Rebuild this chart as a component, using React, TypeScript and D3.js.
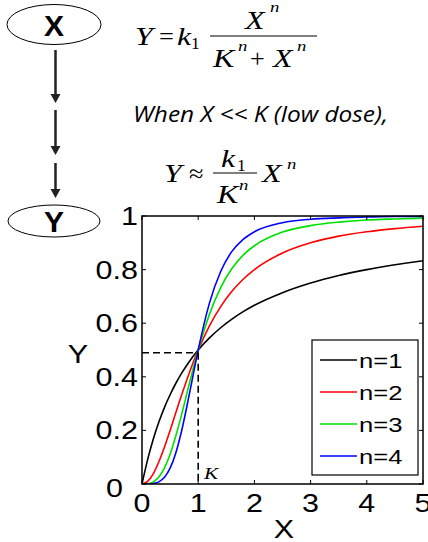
import React from 'react';
import * as d3 from 'd3';

// values
const xs = [0, 0.1, 0.2, 0.3, 0.4, 0.5, 0.6, 0.7, 0.8, 0.9, 1.0, 1.2, 1.4, 1.6, 1.8, 2.0, 2.5, 3.0, 3.5, 4.0, 4.5, 5.0];
const n1 = [0, 0.091, 0.167, 0.231, 0.286, 0.333, 0.375, 0.412, 0.444, 0.474, 0.5, 0.545, 0.583, 0.615, 0.643, 0.667, 0.714, 0.75, 0.778, 0.8, 0.818, 0.833];
const n2 = [0, 0.01, 0.038, 0.083, 0.138, 0.2, 0.265, 0.329, 0.39, 0.448, 0.5, 0.59, 0.662, 0.719, 0.764, 0.8, 0.862, 0.9, 0.925, 0.941, 0.953, 0.962];
const n3 = [0, 0.001, 0.008, 0.026, 0.06, 0.111, 0.178, 0.255, 0.339, 0.422, 0.5, 0.633, 0.733, 0.804, 0.854, 0.889, 0.94, 0.964, 0.977, 0.985, 0.989, 0.992];
const n4 = [0, 0, 0.002, 0.008, 0.025, 0.059, 0.115, 0.194, 0.291, 0.396, 0.5, 0.675, 0.793, 0.868, 0.913, 0.941, 0.975, 0.988, 0.993, 0.996, 0.998, 0.998];
const seriesNames = ['n=1', 'n=2', 'n=3', 'n=4'];
const seriesValues = [n1, n2, n3, n4];
const colors = ['#000000', '#ff0000', '#00e000', '#0000ff'];
const xTicks = [0, 1, 2, 3, 4, 5];
const yTicks = [0, 0.2, 0.4, 0.6, 0.8, 1];
const kMark = { x: 1, y: 0.49 };

const W = 428;
const H = 542;
const left = 142, right = 423, top = 216, bottom = 484;

const sans = 'Arial, "Liberation Sans", sans-serif';
const serif = '"Times New Roman", "Liberation Serif", serif';

// the source picture is stretched sideways, so text is too
const T = ({ x, y, size, anchor = 'start', family = sans, italic = false, sx = 1.22, children }: any) => (
  <text
    transform={`translate(${x},${y}) scale(${sx},1)`}
    fontFamily={family}
    fontSize={size}
    fontStyle={italic ? 'italic' : 'normal'}
    textAnchor={anchor}
  >
    {children}
  </text>
);

// math letter / operator helpers
const M = (p: any) => <T size={25} family={serif} italic sx={1.28} {...p} />;
const Op = (p: any) => <T size={25} family={serif} sx={1.05} {...p} />;
const Sup = (p: any) => <T size={15} family={serif} italic sx={1.25} {...p} />;

const Arrow = ({ x, y1, y2 }: any) => (
  <g stroke="#222" fill="#222">
    <line x1={x} x2={x} y1={y1} y2={y2 - 7} strokeWidth={2.5} />
    <path d={`M${x - 5},${y2 - 9} L${x + 5},${y2 - 9} L${x},${y2} Z`} stroke="none" />
  </g>
);

export default function App() {
  const x = d3.scaleLinear().domain([0, 5]).range([left, right]);
  const y = d3.scaleLinear().domain([0, 1]).range([bottom, top]);
  const line = d3
    .line<number>()
    .x((_, i) => x(xs[i]))
    .y((d) => y(d))
    .curve(d3.curveMonotoneX);

  return (
    <svg width={W} height={H} style={{ position: 'absolute', left: 0, top: 0, background: '#fff' }}>
      {/* pathway */}
      <ellipse cx={54} cy={24.5} rx={47} ry={20} fill="none" stroke="#000" strokeWidth={1} />
      <text x={54} y={36} textAnchor="middle" fontFamily={sans} fontWeight="bold" fontSize={30}>X</text>
      <Arrow x={55.5} y1={50} y2={103} />
      <Arrow x={55.5} y1={110} y2={155} />
      <Arrow x={55.5} y1={163} y2={198} />
      <ellipse cx={54} cy={221} rx={46} ry={16} fill="none" stroke="#000" strokeWidth={1} />
      <text x={54} y={232} textAnchor="middle" fontFamily={sans} fontWeight="bold" fontSize={30}>Y</text>

      {/* equation 1 */}
      <M x={135} y={45}>Y</M>
      <Op x={159} y={45}>=</Op>
      <M x={177} y={45}>k</M>
      <Op x={191} y={49} size={16} sx={1.1}>1</Op>
      <line x1={210} x2={317} y1={36} y2={36} stroke="#000" strokeWidth={1.2} />
      <M x={245} y={29}>X</M>
      <Sup x={270} y={12}>n</Sup>
      <M x={213} y={67}>K</M>
      <Sup x={238} y={51}>n</Sup>
      <Op x={250} y={67}>+</Op>
      <M x={273} y={67}>X</M>
      <Sup x={297} y={51}>n</Sup>

      <text x={133} y={122} fontFamily='"Open Sans", sans-serif' fontStyle="italic" fontSize={21}
        textLength={255} lengthAdjust="spacingAndGlyphs">When X &lt;&lt; K (low dose),</text>

      {/* equation 2 */}
      <M x={164} y={182}>Y</M>
      <Op x={189} y={182}>≈</Op>
      <M x={221} y={167}>k</M>
      <Op x={237} y={171} size={16} sx={1.1}>1</Op>
      <line x1={213} x2={257} y1={173} y2={173} stroke="#000" strokeWidth={1.2} />
      <M x={217} y={203}>K</M>
      <Sup x={239} y={190}>n</Sup>
      <M x={262} y={182}>X</M>
      <Sup x={287} y={169}>n</Sup>

      {/* plot */}
      <defs>
        <clipPath id="plotclip">
          <rect x={left} y={top - 2} width={right - left} height={bottom - top + 2} />
        </clipPath>
      </defs>
      <g clipPath="url(#plotclip)" fill="none">
        {seriesValues.map((vals, i) => (
          <path key={i} d={line(vals) || ''} stroke={colors[i]} strokeWidth={1.6} />
        ))}
      </g>

      {/* K guides */}
      <g stroke="#000" strokeWidth={1.6} strokeDasharray="7,4" fill="none">
        <line x1={x(0)} x2={x(kMark.x)} y1={y(kMark.y)} y2={y(kMark.y)} />
        <line x1={x(kMark.x)} x2={x(kMark.x)} y1={y(kMark.y)} y2={y(0)} />
      </g>
      <T x={204} y={479} size={17} family={serif} italic sx={1.25}>K</T>

      {/* axes box */}
      <rect x={left} y={top} width={right - left} height={bottom - top} fill="none" stroke="#000" strokeWidth={1.5} />
      <g stroke="#000" strokeWidth={1}>
        {xTicks.map((t) => (
          <g key={'x' + t}>
            <line x1={x(t)} x2={x(t)} y1={bottom} y2={bottom - 4} />
            <line x1={x(t)} x2={x(t)} y1={top} y2={top + 4} />
          </g>
        ))}
        {yTicks.map((t) => (
          <g key={'y' + t}>
            <line x1={left} x2={left + 4} y1={y(t)} y2={y(t)} />
            <line x1={right} x2={right - 4} y1={y(t)} y2={y(t)} />
          </g>
        ))}
      </g>

      {xTicks.map((t) => (
        <T key={'xl' + t} x={x(t)} y={512} size={25} anchor="middle">{t}</T>
      ))}
      {yTicks.map((t) =>
        t === 0 ? (
          <T key={'yl' + t} x={123} y={497} size={25} anchor="end">0</T>
        ) : (
          <T key={'yl' + t} x={138} y={y(t) + 9} size={25} anchor="end">{t === 1 ? '1' : t.toFixed(1)}</T>
        )
      )}
      <T x={78} y={363} size={25} anchor="middle">Y</T>
      <T x={284} y={538} size={25} anchor="middle">X</T>

      {/* legend */}
      <rect x={312} y={340} width={106} height={135} fill="#fff" stroke="#000" strokeWidth={1.2} />
      {seriesNames.map((name, i) => {
        const ly = 360 + i * 32;
        return (
          <g key={name}>
            <line x1={320} x2={357} y1={ly} y2={ly} stroke={colors[i]} strokeWidth={1.6} />
            <T x={359} y={ly + 7.5} size={21}>{name}</T>
          </g>
        );
      })}
    </svg>
  );
}
